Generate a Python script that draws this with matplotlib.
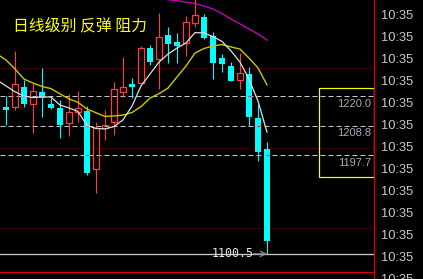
import numpy as np
import matplotlib
matplotlib.use('Agg')
import matplotlib.pyplot as plt
from matplotlib.patches import Rectangle
import matplotlib.transforms as mtransforms

# daily candles (index 0 is cut off by the left edge)
opens  = [1226.4, 1216.0, 1215.9, 1223.3, 1216.9, 1221.4, 1217.0, 1215.6, 1209.7, 1214.0,
          1214.4, 1192.5, 1208.0, 1210.1, 1221.4, 1224.4, 1225.0, 1238.0, 1233.8, 1243.0,
          1240.5, 1239.9, 1247.4, 1249.9, 1242.6, 1234.2, 1231.4, 1226.0, 1228.3, 1211.8, 1200.0]
highs  = [1227.3, 1220.1, 1237.0, 1226.0, 1224.8, 1230.5, 1219.1, 1218.5, 1220.6, 1222.0,
          1216.2, 1210.2, 1214.7, 1225.2, 1234.6, 1226.8, 1238.8, 1239.2, 1251.4, 1246.1,
          1243.6, 1250.2, 1257.0, 1250.9, 1244.2, 1235.7, 1232.9, 1236.1, 1231.1, 1217.0, 1202.7]
lows   = [1218.9, 1209.1, 1214.9, 1216.0, 1206.1, 1212.2, 1215.1, 1204.3, 1205.0, 1210.2,
          1190.2, 1183.4, 1203.4, 1205.3, 1219.7, 1219.4, 1225.0, 1231.7, 1222.5, 1232.6,
          1232.3, 1235.1, 1246.1, 1241.4, 1226.4, 1229.2, 1225.7, 1222.5, 1208.7, 1195.5, 1160.5]
closes = [1219.6, 1214.7, 1224.5, 1217.0, 1222.0, 1219.4, 1215.4, 1209.1, 1213.9, 1215.5,
          1191.0, 1207.9, 1209.1, 1222.6, 1223.5, 1223.5, 1238.0, 1232.9, 1242.1, 1239.6,
          1239.0, 1247.8, 1250.5, 1241.8, 1232.6, 1232.0, 1225.8, 1228.6, 1212.2, 1198.9, 1165.3]

# moving averages
ma_white = [1226.0, 1223.8, 1221.6, 1220.0, 1219.4, 1219.7, 1219.6, 1216.6, 1215.5, 1214.2,
            1208.9, 1207.8, 1207.6, 1208.5, 1211.0, 1216.2, 1223.8, 1228.3, 1232.8, 1235.8,
            1238.1, 1240.0, 1243.9, 1243.8, 1242.4, 1240.6, 1237.0, 1232.8, 1226.4, 1218.1, 1206.4]
ma_yellow = [1235.8, 1233.6, 1230.2, 1226.4, 1224.9, 1223.6, 1222.8, 1220.8, 1218.9, 1217.6,
             1215.1, 1213.7, 1212.3, 1212.5, 1212.8, 1213.8, 1216.0, 1219.2, 1220.9, 1223.0,
             1227.2, 1231.3, 1236.2, 1237.9, 1238.9, 1239.4, 1238.5, 1237.7, 1234.3, 1230.6, 1224.2]
ma_magenta_start = 18
ma_magenta = [1257.3, 1256.3, 1255.9, 1255.4, 1254.9, 1253.9, 1252.8, 1251.1, 1249.0,
              1247.2, 1245.3, 1243.4, 1241.1]

title = '日线级别 反弹 阻力'
levels = [1220.0, 1208.8, 1197.7]
level_labels = ['1220.0', '1208.8', '1197.7']
grid_red = [1230.6, 1200.4, 1170.2]
low_label = '1100.5'
box_top, box_bottom, box_left = 1223.0, 1189.5, 35.8
time_ticks = [1250.2, 1241.9, 1233.6, 1225.3, 1217.0, 1208.7, 1200.4,
              1192.1, 1183.8, 1175.5, 1167.2, 1158.9, 1150.6]
time_label = '10:35'

RED = '#ff3c3c'
CYAN = '#00ffff'
px = 0.72  # one pixel in points

fig = plt.figure(figsize=(4.23, 2.79), dpi=100, facecolor='black')
ax = fig.add_axes([0, 7/279, 374/423, 272/279])
ax.set_facecolor('black')
ax.set_xlim(0.333, 41.89)
ax.set_ylim(1153.66, 1256.2)
ax.set_xticks([])
ax.set_yticks([])
for s in ['top', 'left', 'right']:
    ax.spines[s].set_visible(False)
ax.spines['bottom'].set_color('#dd0000')
ax.spines['bottom'].set_linewidth(1.2*px)
# right border runs the full height of the picture
ax.plot([1, 1], [-0.03, 1], transform=ax.transAxes, color='#dd0000',
        lw=1.2*px, clip_on=False, zorder=8)

# guide lines
for y in grid_red:
    ax.axhline(y, color='#a00000', lw=px, ls=(0, (1, 2)), zorder=1)
for y in levels:
    ax.axhline(y, color='#c8c8c8', lw=px, ls=(0, (5, 3)), zorder=1)
ax.axhline(lows[-1], color='#c8c8c8', lw=1.3*px, zorder=1)

# candles
w = 0.33
for i in range(len(opens)):
    o, h, l, c = opens[i], highs[i], lows[i], closes[i]
    if c >= o:
        ax.vlines(i, c, h, color=RED, lw=1.1*px, zorder=2)
        ax.vlines(i, l, o, color=RED, lw=1.1*px, zorder=2)
        ax.add_patch(Rectangle((i - w, o), 2*w, c - o, fill=False,
                               edgecolor=RED, lw=1.3*px, zorder=3))
    else:
        ax.vlines(i, l, h, color=CYAN, lw=1.1*px, zorder=2)
        ax.add_patch(Rectangle((i - w - 0.03, c), 2*w + 0.06, o - c, facecolor=CYAN,
                               edgecolor='none', zorder=3))
        # dashed level shows red where it crosses a cyan body
        for y in levels:
            if c < y < o:
                ax.hlines(y, i - 0.15, i + 0.2, color='#c83737', lw=1.2*px, zorder=4)

xs = np.arange(len(opens))
ax.plot(xs, ma_yellow, color='#c8c800', lw=1.4*px, zorder=5)
ax.plot(xs, ma_white, color='#d8d8d8', lw=1.3*px, zorder=5)
ax.plot(np.arange(ma_magenta_start, ma_magenta_start + len(ma_magenta)), ma_magenta,
        color='#c800c8', lw=1.3*px, zorder=5)

# title
ax.text(0.035, 0.905, title, transform=ax.transAxes, color='#ffff00', fontsize=11.4,
        family=['Noto Sans CJK SC', 'DejaVu Sans'], va='center', ha='left')

# level box
ax.add_patch(Rectangle((box_left, box_bottom), 41.89 - box_left - 0.05, box_top - box_bottom,
                       fill=False, edgecolor='#ffff00', lw=1.2*px, zorder=6))
for y, t in zip(levels, level_labels):
    ax.text(41.6, y - 1.0, t, color='#a8a8b8', fontsize=8, family='Liberation Sans',
            ha='right', va='top', zorder=7)

# lowest price arrow
last = len(opens) - 1
ax.annotate('', xy=(last, lows[-1]), xytext=(last - 1.5, lows[-1]),
            arrowprops=dict(arrowstyle='->', color='#909090', lw=1.2*px,
                            shrinkA=0, shrinkB=0), zorder=7)
ax.text(last - 1.45, lows[-1], low_label, color='#e8e8e8', fontsize=8.4,
        family='DejaVu Sans Mono', ha='right', va='center', zorder=7)

# right side labels
trans = mtransforms.blended_transform_factory(ax.transAxes, ax.transData)
for y in time_ticks:
    ax.text(1.019, y, time_label, transform=trans, color='#c8c8c8', fontsize=9.3,
            family='Liberation Sans', ha='left', va='center', clip_on=False)

fig.savefig('out.png', dpi=100, facecolor='black')
